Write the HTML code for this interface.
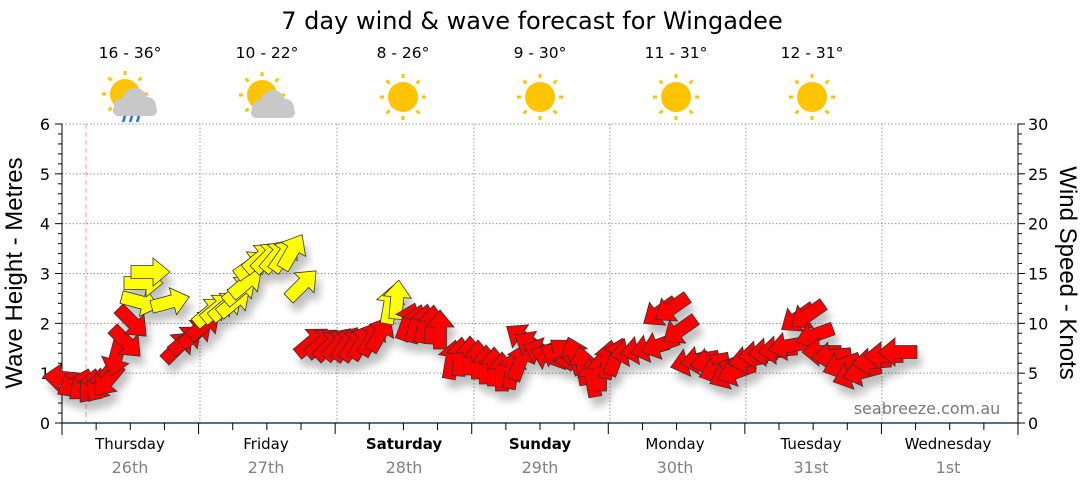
<!DOCTYPE html>
<html><head><meta charset="utf-8"><style>
body{margin:0;background:#fff;}
svg text{font-family:"DejaVu Sans","Liberation Sans",sans-serif;}
</style></head><body>
<svg id="s" width="1080" height="490" viewBox="0 0 1080 490" xmlns="http://www.w3.org/2000/svg">
<defs>
<filter id="sh" x="-50%" y="-50%" width="200%" height="200%"><feGaussianBlur in="SourceAlpha" stdDeviation="4"/><feOffset dx="4" dy="9"/><feComponentTransfer><feFuncA type="linear" slope="0.25"/></feComponentTransfer><feMerge><feMergeNode/><feMergeNode in="SourceGraphic"/></feMerge></filter>
<g id="sun"><circle r="15" fill="#ffc400"/><g stroke="#ffc400" stroke-width="3"><line x1="0" y1="-19" x2="0" y2="-23"/><line x1="0" y1="19" x2="0" y2="23"/><line x1="-19" y1="0" x2="-23" y2="0"/><line x1="19" y1="0" x2="23" y2="0"/><line x1="13.5" y1="13.5" x2="16.5" y2="16.5"/><line x1="-13.5" y1="13.5" x2="-16.5" y2="16.5"/><line x1="13.5" y1="-13.5" x2="16.5" y2="-16.5"/><line x1="-13.5" y1="-13.5" x2="-16.5" y2="-16.5"/></g></g>
<g id="cloud" fill="#c8c8c8"><circle cx="2" cy="0" r="12"/><circle cx="-11" cy="6" r="8"/><circle cx="14" cy="6" r="9"/><rect x="-20" y="5" width="44" height="11" rx="5.5"/></g>
</defs>
<text x="532" y="29" font-size="24" text-anchor="middle" fill="#000">7 day wind &amp; wave forecast for Wingadee</text>
<g font-size="15.5" text-anchor="middle" fill="#000">
<text x="130" y="58">16 - 36°</text><text x="267" y="58">10 - 22°</text><text x="403" y="58">8 - 26°</text><text x="540" y="58">9 - 30°</text><text x="676" y="58">11 - 31°</text><text x="812" y="58">12 - 31°</text>
</g>
<use href="#sun" x="125" y="94"/><use href="#cloud" x="133" y="100"/>
<g stroke="#1a6fff" stroke-width="2.5"><line x1="123" y1="122" x2="125" y2="116"/><line x1="130" y1="122" x2="132" y2="116"/><line x1="137" y1="122" x2="139" y2="116"/></g>
<use href="#sun" x="262" y="95"/><use href="#cloud" x="271" y="102"/>
<use href="#sun" x="403" y="97"/><use href="#sun" x="540" y="97"/><use href="#sun" x="676" y="97"/><use href="#sun" x="812" y="97"/>
<g id="grid" stroke="#999" stroke-dasharray="1.5,2" stroke-width="1"></g>
<line x1="86" y1="124" x2="86" y2="423" stroke="#ff9999" stroke-dasharray="5,3"/>
<g id="axes"></g>
<text x="927" y="414" font-size="16" fill="#777" text-anchor="middle">seabreeze.com.au</text>
<g id="arr" filter="url(#sh)"></g>
<text transform="translate(22,273) rotate(-90)" font-size="24" text-anchor="middle" fill="#000" style="font-family:'Liberation Sans',sans-serif">Wave Height - Metres</text>
<text transform="translate(1060,273) rotate(90)" font-size="24" text-anchor="middle" fill="#000" style="font-family:'Liberation Sans',sans-serif">Wind Speed - Knots</text>
<g font-size="15" text-anchor="middle">
<text x="130" y="449">Thursday</text><text x="266" y="449">Friday</text><text x="404" y="449" font-weight="bold">Saturday</text><text x="540" y="449" font-weight="bold">Sunday</text><text x="675" y="449">Monday</text><text x="811" y="449">Tuesday</text><text x="948" y="449">Wednesday</text>
</g>
<g font-size="16" text-anchor="middle" fill="#808080">
<text x="130" y="473">26th</text><text x="266" y="473">27th</text><text x="404" y="473">28th</text><text x="540" y="473">29th</text><text x="675" y="473">30th</text><text x="811" y="473">31st</text><text x="948" y="473">1st</text>
</g>
</svg>
<script>
var NS="http://www.w3.org/2000/svg";
function el(p,t,a){var e=document.createElementNS(NS,t);for(var k in a)e.setAttribute(k,a[k]);p.appendChild(e);return e;}
var g=document.getElementById('grid'),ax=document.getElementById('axes');
var X0=62,X1=1018,Y0=423,Y6=124,dy=(Y0-Y6)/6;
for(var i=1;i<=6;i++){var y=Y0-i*dy;el(g,'line',{x1:X0,y1:y,x2:X1,y2:y});}
var days=[200,337,474,610,746,882];
days.forEach(function(x){el(g,'line',{x1:x,y1:Y6,x2:x,y2:Y0});});
el(ax,'line',{x1:X0,y1:Y6,x2:X0,y2:Y0+12,stroke:'#000'});
el(ax,'line',{x1:X1,y1:Y6,x2:X1,y2:Y0+12,stroke:'#000'});
el(ax,'line',{x1:X0,y1:Y0,x2:X1,y2:Y0,stroke:'#1f3f5f','stroke-width':1.5});
for(var i=0;i<=30;i++){var y=Y0-i*dy/5;var maj=i%5==0;
el(ax,'line',{x1:X0-(maj?7:4),y1:y,x2:X0,y2:y,stroke:'#000'});
el(ax,'line',{x1:X1,y1:y,x2:X1+(maj?7:4),y2:y,stroke:'#000'});
if(maj){var t=el(ax,'text',{x:X0-12,y:y+6,'font-size':16,'text-anchor':'end'});t.textContent=i/5;
var t2=el(ax,'text',{x:X1+10,y:y+6,'font-size':16});t2.textContent=i*1;}}
var dw=(X1-X0)/7;
for(var i=0;i<=28;i++){var x=X0+i*dw/4;el(ax,'line',{x1:x,y1:Y0,x2:x,y2:Y0+(i%4==0?11:7),stroke:'#000'});}
var D=[[63,378,185,'r'],[75,384,150,'r'],[85,386,140,'r'],[93,387,130,'r'],[100,385,125,'r'],[108,380,130,'r'],
[116,357,105,'r'],[126,342,45,'r'],[132,322,45,'r'],
[140,302,15,'y'],[143,283,0,'y'],[150,272,0,'y'],[170,302,-15,'y'],
[178,347,-45,'r'],[186,340,-40,'r'],[196,333,-40,'r'],[204,325,-40,'r'],
[210,312,-40,'y'],[218,308,-40,'y'],[226,306,-40,'y'],[234,302,-40,'y'],[240,290,-40,'y'],[246,283,-40,'y'],[252,265,-35,'y'],[260,258,-40,'y'],[268,257,-45,'y'],[276,256,-50,'y'],[284,255,-55,'y'],[292,252,-60,'y'],[302,285,-45,'y'],
[312,342,-40,'r'],[322,343,-40,'r'],[330,345,-45,'r'],[338,344,-50,'r'],[346,344,-55,'r'],[354,344,-55,'r'],[362,342,-60,'r'],[372,338,-60,'r'],[380,334,-60,'r'],
[390,305,-80,'y'],[397,300,-85,'y'],
[408,322,-70,'r'],[416,324,-75,'r'],[424,324,-80,'r'],[432,325,-85,'r'],[440,330,-90,'r'],
[452,360,-80,'r'],[460,357,-85,'r'],[470,356,-90,'r'],[478,360,-90,'r'],[486,365,-90,'r'],[494,367,-90,'r'],[502,372,-90,'r'],[512,370,-80,'r'],[520,362,-70,'r'],
[523,338,-145,'r'],[532,345,-150,'r'],[542,352,-160,'r'],[550,357,-160,'r'],[558,356,-150,'r'],[566,353,-140,'r'],[575,356,-110,'r'],[583,366,-100,'r'],[592,378,-100,'r'],[600,372,-90,'r'],[608,360,-80,'r'],[616,357,-70,'r'],
[630,352,170,'r'],[640,350,170,'r'],[650,348,165,'r'],[660,345,160,'r'],[660,312,145,'r'],[672,308,145,'r'],[680,330,145,'r'],
[690,362,165,'r'],[700,360,170,'r'],[710,362,170,'r'],[718,370,160,'r'],[728,375,155,'r'],[736,372,160,'r'],[748,360,170,'r'],[758,355,175,'r'],[768,352,175,'r'],[778,350,175,'r'],[788,346,170,'r'],[798,318,145,'r'],[808,315,145,'r'],[815,335,160,'r'],
[822,352,180,'r'],[832,356,175,'r'],[842,365,160,'r'],[852,375,160,'r'],[862,372,165,'r'],[872,362,175,'r'],[884,356,180,'r'],[898,352,180,'r']];
var A=document.getElementById('arr');
var pts="-19,-6.5 3,-6.5 3,-14 20,0 3,14 3,6.5 -19,6.5";
D.forEach(function(d){el(A,'polygon',{points:pts,fill:d[3]=='r'?'#ff0000':'#ffff00',stroke:'#333','stroke-width':0.8,transform:'translate('+d[0]+','+d[1]+') rotate('+d[2]+')'});});
</script>
</body></html>
